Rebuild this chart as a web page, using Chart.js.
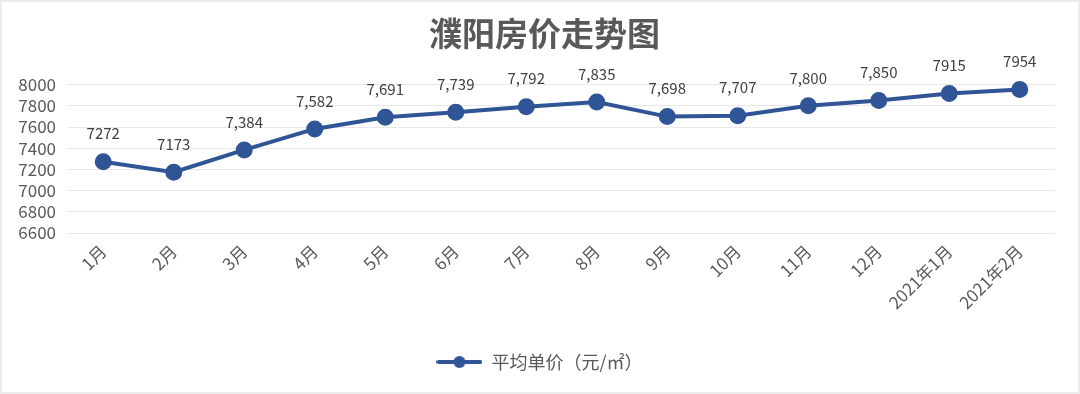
<!DOCTYPE html>
<html>
<head>
<meta charset="utf-8">
<script src="https://cdn.jsdelivr.net/npm/chart.js@4.4.1/dist/chart.umd.min.js"></script>
<style>
  html, body { margin: 0; padding: 0; background: #fff; }
  #wrap { width: 1076px; height: 390px; border: 2px solid #ececec; box-sizing: content-box; }
  canvas { display: block; }
</style>
</head>
<body>
<div id="wrap"><canvas id="c" width="1076" height="390"></canvas></div>
<script>
// categories and values
const months = ['1月', '2月', '3月', '4月', '5月', '6月', '7月', '8月', '9月', '10月', '11月', '12月', '2021年1月', '2021年2月'];
const avgPrice = [7272, 7173, 7384, 7582, 7691, 7739, 7792, 7835, 7698, 7707, 7800, 7850, 7915, 7954];
const priceLabels = ['7272', '7173', '7,384', '7,582', '7,691', '7,739', '7,792', '7,835', '7,698', '7,707', '7,800', '7,850', '7915', '7954'];
const yTicks = [6600, 6800, 7000, 7200, 7400, 7600, 7800, 8000];

const FONT = '"Noto Sans CJK SC", "Noto Sans", sans-serif';
const BLUE = '#2f5597';
const GREY = '#595959';

// legend marker: line with a dot in the middle
const marker = document.createElement('canvas');
marker.width = 46; marker.height = 14;
(function() {
    const m = marker.getContext('2d');
    m.strokeStyle = BLUE; m.lineWidth = 4; m.lineCap = 'round';
    m.beginPath(); m.moveTo(2, 7); m.lineTo(44, 7); m.stroke();
    m.fillStyle = BLUE;
    m.beginPath(); m.arc(23, 7, 6, 0, Math.PI * 2); m.fill();
})();

// value labels above each point
const pointLabels = {
    id: 'pointLabels',
    afterDatasetsDraw(chart) {
        const ctx = chart.ctx;
        const meta = chart.getDatasetMeta(0);
        ctx.save();
        ctx.font = '15px ' + FONT;
        ctx.fillStyle = '#404040';
        ctx.textAlign = 'center';
        ctx.textBaseline = 'middle';
        meta.data.forEach((pt, i) => {
            ctx.fillText(priceLabels[i], pt.x, pt.y - 28);
        });
        ctx.restore();
    }
};

// title and legend sit a bit right of the canvas centre in the original
const nudgeBlocks = {
    id: 'nudgeBlocks',
    afterLayout(chart) {
        chart.titleBlock.left += 16;
        chart.titleBlock.right += 16;
        chart.legend.left += 11;
        chart.legend.right += 11;
    }
};

new Chart(document.getElementById('c'), {
    type: 'line',
    data: {
        labels: months,
        datasets: [{
            label: '平均单价（元/㎡）',
            data: avgPrice,
            borderColor: BLUE,
            backgroundColor: BLUE,
            borderWidth: 4,
            pointStyle: 'circle',
            pointRadius: 6.5,
            pointBackgroundColor: BLUE,
            pointBorderColor: BLUE,
            tension: 0,
            clip: false
        }]
    },
    options: {
        responsive: false,
        animation: false,
        layout: { padding: { top: 4, right: 23, left: 0, bottom: 11 } },
        plugins: {
            title: {
                display: true,
                text: '濮阳房价走势图',
                color: GREY,
                font: { family: FONT, size: 33, weight: 'bold' },
                padding: { top: 8, bottom: 31 }
            },
            legend: {
                position: 'bottom',
                labels: {
                    usePointStyle: true,
                    pointStyleWidth: 46,
                    boxHeight: 14,
                    color: GREY,
                    font: { family: FONT, size: 18 },
                    padding: 10,
                    generateLabels: (chart) => [{
                        text: chart.data.datasets[0].label,
                        pointStyle: marker,
                        fontColor: GREY,
                        datasetIndex: 0
                    }]
                }
            },
            tooltip: { enabled: false }
        },
        scales: {
            x: {
                offset: true,
                grid: { display: false },
                border: { display: false },
                ticks: {
                    color: GREY,
                    font: { family: FONT, size: 17 },
                    minRotation: 45,
                    maxRotation: 45,
                    padding: 0
                },
                afterFit: (s) => { s.height = 110; }
            },
            y: {
                min: 6600,
                max: 8000,
                border: { display: false },
                grid: { color: '#e8e8e8', lineWidth: 1, drawTicks: false },
                afterBuildTicks: (s) => { s.ticks = yTicks.map(v => ({ value: v })); },
                ticks: {
                    autoSkip: false,
                    color: GREY,
                    font: { family: FONT, size: 17 },
                    padding: 12,
                    callback: (v) => String(v)
                },
                afterFit: (s) => { s.width = 66; }
            }
        }
    },
    plugins: [pointLabels, nudgeBlocks]
});
</script>
</body>
</html>
